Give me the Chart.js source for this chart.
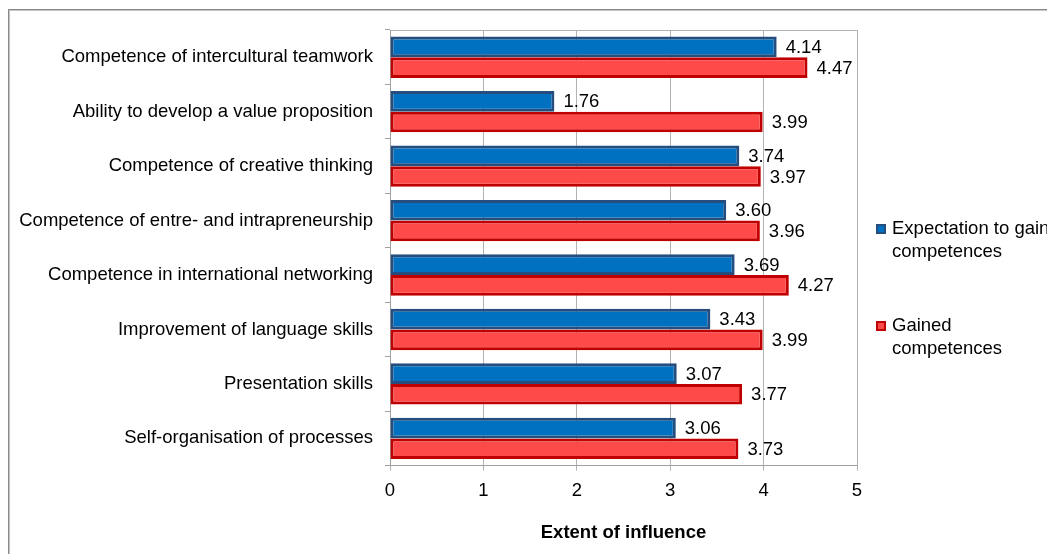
<!DOCTYPE html>
<html>
<head>
<meta charset="utf-8">
<script src="https://cdn.jsdelivr.net/npm/chart.js@4.4.1/dist/chart.umd.min.js"></script>
<style>
  html, body { margin: 0; padding: 0; background: #fff; }
  #wrap { width: 1047px; height: 554px; position: relative; }
</style>
</head>
<body>
<div id="wrap"><canvas id="c" width="1047" height="554"></canvas></div>
<script>
const categories = [
  "Competence of intercultural teamwork",
  "Ability to develop a value proposition",
  "Competence of creative thinking",
  "Competence of entre- and intrapreneurship",
  "Competence in international networking",
  "Improvement of language skills",
  "Presentation skills",
  "Self-organisation of processes"
];
const expectationValues = [4.14, 1.76, 3.74, 3.60, 3.69, 3.43, 3.07, 3.06];
const gainedValues = [4.47, 3.99, 3.97, 3.96, 4.27, 3.99, 3.77, 3.73];
const seriesNames = ["Expectation to gain competences", "Gained competences"];
const legendLines = [["Expectation to gain", "competences"], ["Gained", "competences"]];
const xTicks = [0, 1, 2, 3, 4, 5];
const axisTitle = "Extent of influence";

const FONT = "'Liberation Sans', Arial, sans-serif";
const FS = 18.5;

const framePlugin = {
  id: 'frame',
  beforeDraw(chart) {
    const ctx = chart.ctx;
    ctx.save();
    ctx.fillStyle = '#fff';
    ctx.fillRect(0, 0, chart.width, chart.height);
    ctx.fillStyle = '#8a8a8a';
    ctx.fillRect(8, 9, chart.width, 1);
    ctx.fillRect(8, 9, 1, chart.height);
    ctx.fillStyle = '#c4c4c4';
    ctx.fillRect(9, 10, chart.width, 1);
    ctx.fillRect(9, 10, 1, chart.height);
    const a = chart.chartArea;
    ctx.strokeStyle = '#b3b3b3';
    ctx.lineWidth = 1;
    ctx.beginPath();
    ctx.moveTo(a.left, a.top + 0.5);
    ctx.lineTo(a.right + 0.5, a.top + 0.5);
    ctx.lineTo(a.right + 0.5, a.bottom);
    ctx.stroke();
    ctx.restore();
  }
};

const labelPlugin = {
  id: 'valueLabels',
  afterDatasetsDraw(chart) {
    const ctx = chart.ctx;
    ctx.save();
    ctx.font = FS + 'px ' + FONT;
    ctx.fillStyle = '#000';
    ctx.textAlign = 'left';
    ctx.textBaseline = 'middle';
    chart.data.datasets.forEach((ds, di) => {
      const meta = chart.getDatasetMeta(di);
      meta.data.forEach((bar, i) => {
        ctx.fillText(ds.data[i].toFixed(2), bar.x + 9, bar.y + 1);
      });
    });
    ctx.restore();
  }
};

const legendPlugin = {
  id: 'customLegend',
  afterDraw(chart) {
    const ctx = chart.ctx;
    ctx.save();
    ctx.font = FS + 'px ' + FONT;
    ctx.textBaseline = 'middle';
    ctx.textAlign = 'left';
    const tops = [229, 326];
    chart.data.datasets.forEach((ds, di) => {
      const cy = tops[di];
      ctx.fillStyle = ds.borderColor;
      ctx.fillRect(876, cy - 5, 10, 10);
      ctx.fillStyle = ds.backgroundColor;
      ctx.fillRect(878, cy - 3, 6, 6);
      ctx.fillStyle = '#000';
      legendLines[di].forEach((line, li) => {
        ctx.fillText(line, 892, cy + li * 23);
      });
    });
    ctx.restore();
  }
};

new Chart(document.getElementById('c'), {
  type: 'bar',
  data: {
    labels: categories,
    datasets: [
      {
        label: seriesNames[0],
        data: expectationValues,
        backgroundColor: '#0070C0',
        borderColor: '#254E7E',
        borderWidth: 3,
        borderSkipped: false,
        categoryPercentage: 0.76,
        barPercentage: 1.0
      },
      {
        label: seriesNames[1],
        data: gainedValues,
        backgroundColor: '#FF4A4A',
        borderColor: '#C00000',
        borderWidth: 3,
        borderSkipped: false,
        categoryPercentage: 0.76,
        barPercentage: 1.0
      }
    ]
  },
  options: {
    indexAxis: 'y',
    responsive: false,
    animation: false,
    devicePixelRatio: 1,
    layout: { padding: { left: 0, top: 30, right: 190, bottom: 10 } },
    plugins: {
      legend: { display: false },
      tooltip: { enabled: false }
    },
    scales: {
      x: {
        min: 0,
        max: 5,
        afterBuildTicks(scale) { scale.ticks = xTicks.map(v => ({ value: v })); },
        grid: { color: '#b3b3b3', lineWidth: 1, drawTicks: true, tickLength: 5, tickColor: '#b3b3b3' },
        border: { color: '#a0a0a0', width: 1 },
        ticks: { color: '#000', font: { family: FONT, size: FS }, padding: 9, maxRotation: 0 },
        title: {
          display: true,
          text: axisTitle,
          color: '#000',
          font: { family: FONT, size: FS, weight: 'bold' },
          padding: { top: 11, bottom: 0 }
        }
      },
      y: {
        afterFit(scale) { scale.width = 390; },
        grid: { drawOnChartArea: false, drawTicks: true, tickLength: 5, offset: true, color: '#a0a0a0' },
        border: { color: '#a0a0a0', width: 1 },
        ticks: { color: '#000', font: { family: FONT, size: FS }, padding: 12, autoSkip: false }
      }
    }
  },
  plugins: [framePlugin, labelPlugin, legendPlugin]
});
</script>
</body>
</html>
